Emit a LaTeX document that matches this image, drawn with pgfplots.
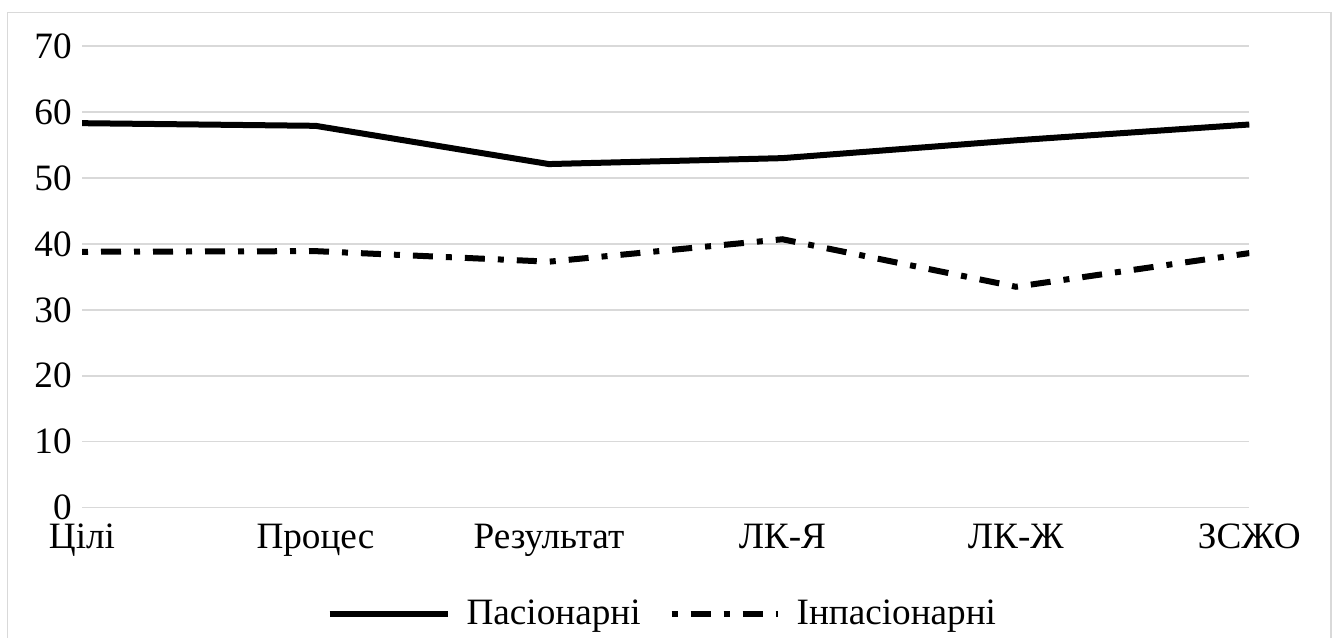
\documentclass[border=0pt]{standalone}
\usepackage{fontspec}
\setmainfont{Liberation Serif}
\newfontfamily\tnr{Liberation Serif}
\usepackage{pgfplots}
\pgfplotsset{compat=1.18}
\definecolor{gridgray}{HTML}{D9D9D9}
\begin{document}
\begin{tikzpicture}
\useasboundingbox (0,0) rectangle (668pt,318.5pt);
\draw[gridgray, line width=0.8pt] (3.65pt,-5pt) rectangle (665.35pt,312.15pt);
\begin{axis}[
  at={(41pt,64.65pt)}, anchor=south west,
  scale only axis,
  width=583.65pt, height=230.85pt,
  xmin=0, xmax=5, ymin=0, ymax=70,
  xtick={0,1,2,3,4,5},
  xticklabels={Цілі,Процес,Результат,ЛК-Я,ЛК-Ж,ЗСЖО},
  ytick={0,10,20,30,40,50,60,70},
  ymajorgrids,
  grid style={gridgray, line width=0.75pt},
  axis line style={draw=none},
  major tick length=0pt,
  tick label style={font=\tnr\fontsize{18.6pt}{21pt}\selectfont},
  /pgf/number format/assume math mode=true,
  xticklabel style={anchor=base, yshift=-20.6pt},
  yticklabel style={anchor=east, inner sep=0pt, xshift=-5pt},
  legend style={draw=none, fill=none, at={(axis description cs:0.498,-0.2300)}, anchor=center,
    font=\tnr\fontsize{18.6pt}{21pt}\selectfont, inner sep=0pt,
    /tikz/every odd column/.append style={column sep=6pt},
    /tikz/every even column/.append style={column sep=12pt}},
  legend columns=2,
  legend cell align=left,
]
\addplot[black, line width=3pt, line join=round,
  legend image code/.code={\draw[black, line width=3pt] (0pt,0pt) -- (59pt,0pt);}]
  coordinates {(0,58.3) (1,57.9) (2,52.1) (3,53.0) (4,55.7) (5,58.1)};
\addlegendentry{Пасіонарні}
\addplot[black, line width=3pt, dash pattern=on 3pt off 6.5pt on 10pt off 6.5pt,
  legend image code/.code={\draw[black, line width=3pt, dash pattern=on 3pt off 6.5pt on 10pt off 6.5pt] (0pt,0pt) -- (53pt,0pt);}]
  coordinates {(0,38.8) (1,38.9) (2,37.3) (3,40.7) (4,33.5) (5,38.6)};
\addlegendentry{Інпасіонарні}
\end{axis}
\end{tikzpicture}
\end{document}
